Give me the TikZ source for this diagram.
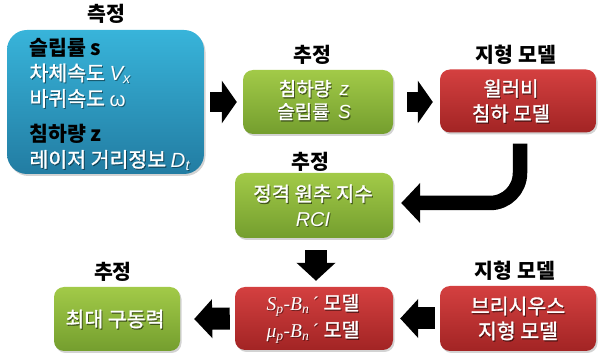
\documentclass[tikz,border=0pt]{standalone}
\usepackage{fontspec}
\setmainfont{Noto Sans CJK KR}
\newfontfamily\krw{Noto Sans CJK KR}[FakeBold=1.4]
\newfontfamily\lsans{Liberation Sans}
\newfontfamily\lserif{Liberation Serif}
\usetikzlibrary{shadows,arrows.meta}
\definecolor{bluetop}{RGB}{56,180,218}
\definecolor{bluebot}{RGB}{34,124,162}
\definecolor{greentop}{RGB}{162,202,72}
\definecolor{greenbot}{RGB}{116,158,46}
\definecolor{redtop}{RGB}{212,64,64}
\definecolor{redbot}{RGB}{162,36,36}
% #1 box name, #2 dx, #3 dy, #4 options, #5 text
\newcommand\shtext[5]{%
  \node[#4, text=black, opacity=0.45, xshift=1pt, yshift=-1.3pt] at ([xshift=#2,yshift=#3]#1) {#5};
  \node[#4] (#1t) at ([xshift=#2,yshift=#3]#1) {#5};}
\begin{document}
\begin{tikzpicture}[x=1pt,y=-1pt,
  box/.style={rounded corners=10pt, inner sep=0pt,
    drop shadow={opacity=0.35,shadow xshift=1.5pt,shadow yshift=-2pt}},
  bluebox/.style={box, rounded corners=20pt, top color=bluetop, bottom color=bluebot},
  greenbox/.style={box, top color=greentop, bottom color=greenbot},
  redbox/.style={box, top color=redtop, bottom color=redbot},
  wtext/.style={text=white, align=center, inner sep=0pt},
  title/.style={font=\fontsize{20.5}{24}\selectfont\bfseries, text=black},
  fatA/.style={line width=20pt, -{Triangle[width=42pt,length=15pt]}, black},
  fatB/.style={line width=22pt, -{Triangle[width=38pt,length=18pt]}, black},
  bent/.style={line width=14.5pt, rounded corners=30pt, -{Triangle[width=39pt,length=19pt]}, black}
]
\useasboundingbox (0,0) rectangle (598,358);

% boxes
\node[bluebox, minimum width=197pt, minimum height=144pt] (B) at (105.5,102) {};
\node[greenbox, minimum width=150pt, minimum height=64pt] (G1) at (318,102) {};
\node[redbox, minimum width=156pt, minimum height=63pt] (R1) at (518,101) {};
\node[greenbox, minimum width=158pt, minimum height=65pt] (G2) at (314,205.5) {};
\node[greenbox, minimum width=126pt, minimum height=64pt] (G3) at (117,319) {};
\node[redbox, minimum width=158pt, minimum height=63pt] (R2) at (314,318.5) {};
\node[redbox, minimum width=156pt, minimum height=65pt] (R3) at (518,318.5) {};

% blue box text
\coordinate (Bc) at (26,104);
\node[anchor=west, align=left, text=black, opacity=0.4, font=\fontsize{20.5}{25.5}\selectfont, xshift=1pt, yshift=-1.3pt] at (Bc)
  {\phantom{슬립률 s}\\
   {\krw 차체속도} {\lsans\itshape V\textsubscript{x}}\\
   {\krw 바퀴속도} {\lsans ω}\\[10pt]
   \phantom{침하량 z}\\
   {\krw 레이저 거리정보} {\lsans\itshape D\textsubscript{t}}};
\node[anchor=west, align=left, text=white, font=\fontsize{20.5}{25.5}\selectfont] (Bt) at (Bc)
  {{\bfseries\color{black}슬립률 s}\\
   {\krw 차체속도} {\lsans\itshape V\textsubscript{x}}\\
   {\krw 바퀴속도} {\lsans ω}\\[10pt]
   {\bfseries\color{black}침하량 z}\\
   {\krw 레이저 거리정보} {\lsans\itshape D\textsubscript{t}}};

\shtext{G1}{-4pt}{2pt}{wtext, font=\fontsize{19}{23}\selectfont\krw}{침하량~~{\lsans\itshape z}\\슬립률~~{\lsans\itshape S}}
\shtext{R1}{-7pt}{0pt}{wtext, font=\fontsize{20}{25}\selectfont\krw}{윌러비\\침하 모델}
\shtext{G2}{-1pt}{0pt}{wtext, font=\fontsize{20}{25}\selectfont\krw}{정격 원추 지수\\{\lsans\itshape RCI}}
\shtext{G3}{-2pt}{0pt}{wtext, font=\fontsize{20.5}{24}\selectfont\krw}{최대 구동력}
\shtext{R2}{-1pt}{0pt}{wtext, font=\fontsize{19.5}{27}\selectfont\krw}{{\lserif\itshape S\textsubscript{p}-B\textsubscript{n}}{\lserif\,´} 모델\\
   {\lserif\itshape μ\textsubscript{p}-B\textsubscript{n}}{\lserif\,´} 모델}
\shtext{R3}{0pt}{0pt}{wtext, font=\fontsize{20.5}{25}\selectfont\krw}{브리시우스\\지형 모델}

% titles
\node[title] (T1) at (106,14) {측정};
\node[title] (T2) at (312,55) {추정};
\node[title] (T3) at (516,55) {지형 모델};
\node[title] (T4) at (310,162) {추정};
\node[title] (T5) at (113,272) {추정};
\node[title] (T6) at (515,271) {지형 모델};

% arrows
\draw[fatA] ([xshift=6pt]B.east) -- ([xshift=-6pt]G1.west);
\draw[fatA] ([xshift=14pt]G1.east) -- ([xshift=-7pt]G1.east -| R1.west);
\draw[bent] ([xshift=2pt,yshift=-11pt]R1.south) |- ([xshift=8pt,yshift=2.5pt]G2.east);
\draw[fatB] ([xshift=2pt,yshift=-12pt]G2.south) -- ([xshift=2pt,yshift=6pt]R2.north);
\draw[fatB] ([xshift=-5pt]R2.west) -- ([xshift=14pt]G3.east);
\draw[fatB] ([xshift=-5pt]R3.west) -- ([xshift=7pt]R2.east);
\end{tikzpicture}
\end{document}
